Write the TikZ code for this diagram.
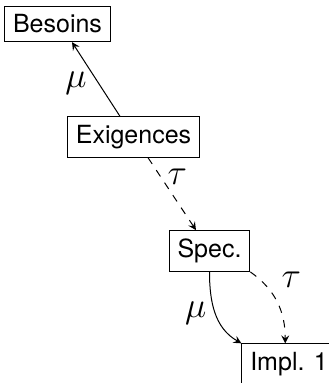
\documentclass[tikz,border=0pt]{standalone}
\usepackage{amsmath,amssymb}
\usepackage{fontspec}
\setmainfont{TeX Gyre Heros}
\usetikzlibrary{arrows}

\begin{document}
\begin{tikzpicture}[x=0.4pt, y=-0.4pt, >=stealth,
  boite/.style={draw, thin, fill=white},
  etiq/.style={font=\Large, inner sep=1.5pt}]
\useasboundingbox (0,0) rectangle (329,383);
\node[boite] (besoins) at (57.5,24) {Besoins};
\node[boite] (exig) at (133.5,137) {Exigences};
\node[boite] (spec) at (209.5,251) {Spec.};
\node[boite] (impl) at (289,364) {Impl. 1};
\draw[->] ([xshift=-5.4pt]exig.north) -- node[etiq, pos=0.45, left=3pt] {$\mu$} ([xshift=5.8pt]besoins.south);
\draw[->, dashed] ([xshift=5.8pt]exig.south) -- node[etiq, pos=0.27, right=1pt] {$\tau$} ([xshift=-5.4pt]spec.north);
\draw[->] (spec.south) to[out=-90, in=150] node[etiq, left=2pt] {$\mu$} (impl.north west);
\draw[->, dashed] (spec.south east) to[out=-35, in=90] node[etiq, pos=0.4, above right=1.5pt] {$\tau$} ([xshift=-1.5pt]impl.north);
\end{tikzpicture}
\end{document}
